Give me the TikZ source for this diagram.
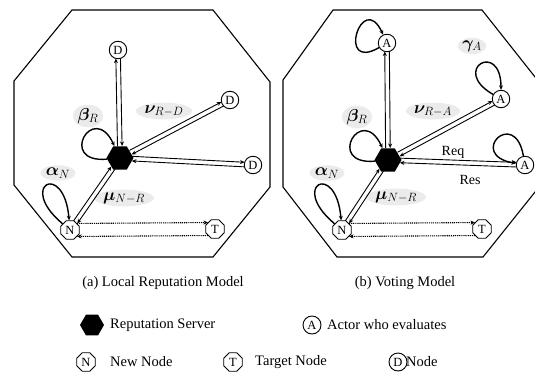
\documentclass[tikz,border=0pt]{standalone}
\usepackage{fontspec}
\usepackage{bm}
\setmainfont{Liberation Serif}
\usetikzlibrary{shapes.geometric,arrows.meta,calc}
\newcommand\myfs[1]{\fontsize{#1}{#1}\selectfont}
\newcommand\dlink[4]{%
  \draw[conn,shorten <=#3,shorten >=#4] ($(#1)!2.3pt!90:(#2)$) -- ($(#2)!2.3pt!-90:(#1)$);
  \draw[conn,shorten <=#4,shorten >=#3] ($(#2)!2.3pt!90:(#1)$) -- ($(#1)!2.3pt!-90:(#2)$);
}
\newcommand\dotlink[2]{%
  \draw[dotc] ($(#1)!6.5pt!90:(#2)$) -- ($(#2)!6.5pt!-90:(#1)$);
  \draw[dotc] ($(#2)!6.5pt!90:(#1)$) -- ($(#1)!6.5pt!-90:(#2)$);
}
\begin{document}
\begin{tikzpicture}[x=1pt,y=-1pt,
  octa/.style={draw,line width=1.1pt,line join=miter},
  nd/.style={circle,draw,line width=0.9pt,minimum size=17.5pt,inner sep=0pt,fill=white,font=\myfs{12.5}},
  nde/.style={regular polygon,regular polygon sides=8,draw,line width=0.9pt,minimum size=20pt,inner sep=0pt,fill=white,font=\myfs{12.5}},
  srv/.style={regular polygon,regular polygon sides=6,fill=black,minimum size=27pt,inner sep=0pt},
  conn/.style={line width=0.9pt,-{Stealth[length=4.5pt,width=4pt]}},
  dotc/.style={line width=1.1pt,dash pattern=on 1.2pt off 0.9pt,shorten <=7pt,shorten >=7pt,-{Stealth[length=4.5pt,width=4pt]}},
  lp/.style={line width=1.4pt,-{Stealth[length=4.5pt,width=4pt]}},
  lbl/.style={ellipse,fill=gray!16,inner sep=0.3pt,font=\myfs{18}},
  txt/.style={font=\myfs{14.5},inner sep=0pt},
]
\useasboundingbox (0,0) rectangle (535,375);
% octagons
\draw[octa] (72,10) -- (213,10) -- (270,82) -- (270,187) -- (213,257) -- (72,257) -- (14,185) -- (14,81) -- cycle;
\draw[octa] (333,10) -- (482,10) -- (539,82) -- (539,187) -- (483,257) -- (337,257) -- (283,187) -- (283,80) -- cycle;

% ---------- left panel ----------
\node[lbl] (b1) at (88,116) {$\bm{\beta}_{R}$};
\node[lbl] (a1) at (58,173) {$\bm{\alpha}_{N}$};
\node[lbl] (v1) at (164,111) {$\bm{\nu}_{R-D}$};
\node[lbl] (m1) at (124,198) {$\bm{\mu}_{N-R}$};

\node[srv] (S1) at (120,158) {};
\node[nd] (D1) at (118,50) {D};
\node[nd] (D2) at (230,100) {D};
\node[nd] (D3) at (253,165) {D};
\node[nde] (N1) at (70,230) {N};
\node[nde] (T1) at (215,229) {T};

\dlink{S1}{D1}{12pt}{8.5pt}
\dlink{S1}{D2}{12pt}{8.5pt}
\dlink{S1}{D3}{12pt}{8.5pt}
\dlink{S1}{N1}{12pt}{9.5pt}
\dotlink{N1}{T1}
\draw[lp] (S1) to[out=185,in=115,distance=50pt] (S1);
\draw[lp] (N1) to[out=140,in=95,distance=60pt] (N1);

\node[txt] (c1) at (163,283) {(a) Local Reputation Model};

% ---------- right panel ----------
\node[lbl] (b2) at (357,117) {$\bm{\beta}_{R}$};
\node[lbl] (a2) at (327,173) {$\bm{\alpha}_{N}$};
\node[lbl] (v2) at (433,111) {$\bm{\nu}_{R-A}$};
\node[lbl] (m2) at (396,197) {$\bm{\mu}_{N-R}$};
\node[lbl] (g2) at (472,46) {$\bm{\gamma}_{A}$};

\node[srv] (S2) at (388,160) {};
\node[nd] (A1) at (387,43) {A};
\node[nd] (A2) at (501,99) {A};
\node[nd] (A3) at (525,165) {A};
\node[nde] (N2) at (342,230) {N};
\node[nde] (T2) at (482,229) {T};

\dlink{S2}{A1}{12pt}{8.5pt}
\dlink{S2}{A2}{12pt}{8.5pt}
\dlink{S2}{A3}{12pt}{8.5pt}
\dlink{S2}{N2}{12pt}{9.5pt}
\dotlink{N2}{T2}
\draw[lp] (S2) to[out=185,in=115,distance=50pt] (S2);
\draw[lp] (N2) to[out=140,in=95,distance=60pt] (N2);
\draw[lp] (A1) to[out=210,in=115,distance=50pt] (A1);
\draw[lp] (A2) to[out=150,in=90,distance=50pt] (A2);
\draw[lp] (A3) to[out=100,in=170,distance=50pt] (A3);

\node[txt,font=\myfs{14}] (rq) at (453,152) {Req};
\node[txt,font=\myfs{14}] (rs) at (470,180) {Res};

\node[txt] (c2) at (405,283) {(b) Voting Model};

% ---------- legend ----------
\node[srv,minimum size=24pt] (L1) at (92,325) {};
\node[txt,anchor=west] (L1t) at (110,325) {Reputation Server};
\node[nd,minimum size=18pt] (L2) at (312,325) {A};
\node[txt,anchor=west] (L2t) at (327,325) {Actor who evaluates};
\node[nde,minimum size=20pt] (L3) at (86,362) {N};
\node[txt,anchor=west] (L3t) at (110,362) {New Node};
\node[nde,minimum size=20pt] (L4) at (233,362) {T};
\node[txt,anchor=west] (L4t) at (255,362) {Target Node};
\node[nd,minimum size=18pt] (L5) at (398,362) {D};
\node[txt,anchor=west] (L5t) at (406,362) {Node};
\end{tikzpicture}
\end{document}
